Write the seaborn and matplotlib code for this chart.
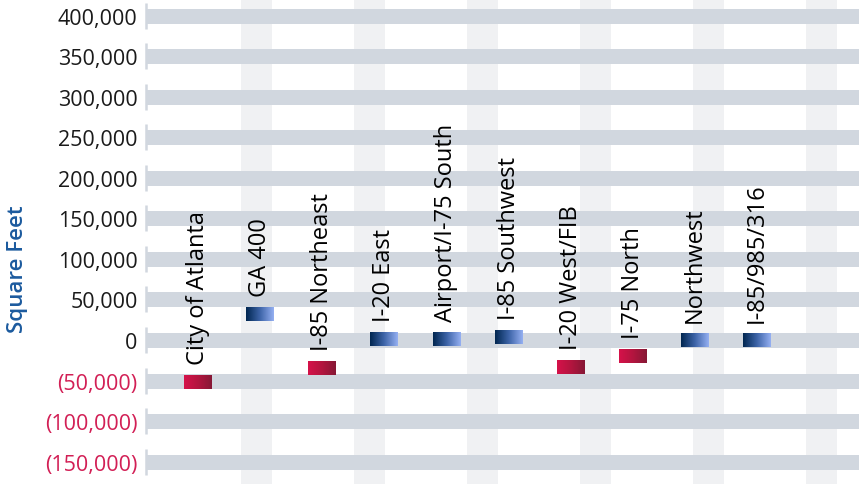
import numpy as np
import pandas as pd
import matplotlib
matplotlib.use('Agg')
import matplotlib.pyplot as plt
import seaborn as sns
from matplotlib.colors import LinearSegmentedColormap

sns.set_theme(style='white')
plt.rcParams['font.family'] = ['Open Sans', 'DejaVu Sans']

# 하위시장별 순흡수 면적 (square feet)
submarkets = ['City of Atlanta', 'GA 400', 'I-85 Northeast', 'I-20 East',
              'Airport/I-75 South', 'I-85 Southwest', 'I-20 West/FIB',
              'I-75 North', 'Northwest', 'I-85/985/316']
net_sf = [-52000, 32000, -34500, 1500, 1200, 3700, -33300, -19700, 400, 200]

y_ticks = [400000, 350000, 300000, 250000, 200000, 150000, 100000, 50000,
           0, -50000, -100000, -150000]
y_labels = ['400,000', '350,000', '300,000', '250,000', '200,000', '150,000',
            '100,000', '50,000', '0', '(50,000)', '(100,000)', '(150,000)']

df = pd.DataFrame({'submarket': submarkets, 'sf': net_sf})

fig = plt.figure(figsize=(8.59, 4.85), dpi=100)
ax = fig.add_axes([146 / 859, 0, 1 - 146 / 859, 1])

xmin, xmax = -0.837, 10.64
ymin, ymax = -177500, 420500

# 세로 옅은 배경 띠
for x0 in np.arange(0.69, 10.5, 1.82):
    ax.axvspan(x0, x0 + 0.5, color='#f0f1f3', zorder=0, lw=0)

# 가로 두꺼운 회색 그리드
for t in y_ticks:
    ax.axhline(t, color='#d1d7df', lw=10.8, zorder=1)
ax.plot([xmin + 0.005] * len(y_ticks), y_ticks, ls='none', marker='|',
        ms=19, mew=1.8, color='#d1d7df', zorder=1, clip_on=False)

sns.barplot(data=df, x='submarket', y='sf', width=0.45, ax=ax, zorder=3)

thick = 17000
blue = LinearSegmentedColormap.from_list('b', ['#002650', '#3d64a8', '#95b0f2'])
red = LinearSegmentedColormap.from_list('r', ['#d6124a', '#b3153f', '#861835'])
grad = np.linspace(0, 1, 256).reshape(1, -1)
for p, v, name in zip(ax.containers[0], net_sf, submarkets):
    p.set_y(v - thick / 2)
    p.set_height(thick)
    p.set_facecolor('none')
    p.set_edgecolor('none')
    x0 = p.get_x()
    w = p.get_width()
    im = ax.imshow(grad, cmap=blue if v >= 0 else red, aspect='auto',
                   extent=[x0, x0 + w, v - thick / 2, v + thick / 2], zorder=3)
    im.set_clip_path(p)
    ax.annotate(name, xy=(x0 + w / 2, v + thick / 2), xytext=(0, 8),
                textcoords='offset points', rotation=90, ha='center',
                va='bottom', fontsize=17, color='#000000', zorder=4)

ax.set_xlim(xmin, xmax)
ax.set_ylim(ymin, ymax)
ax.set_yticks(y_ticks)
ax.set_yticklabels(y_labels)
for lab, t in zip(ax.get_yticklabels(), y_ticks):
    lab.set_color('#d21f55' if t < 0 else '#1a1a1a')
    lab.set_fontsize(15.5)
ax.tick_params(axis='y', length=0, pad=6)
ax.set_xticks([])
ax.set_xlabel('')
ax.set_ylabel('Square Feet', color='#1b5a9e', fontsize=16,
              fontweight='semibold')
ax.yaxis.set_label_coords(-0.166, 0.445)
for s in ax.spines.values():
    s.set_visible(False)

fig.savefig('out.png', dpi=100)
